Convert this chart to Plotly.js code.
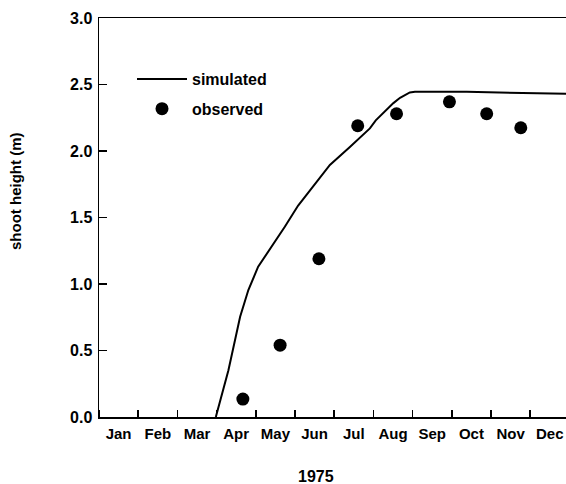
<!DOCTYPE html>
<html>
<head>
<meta charset="utf-8">
<script src="https://cdn.plot.ly/plotly-3.0.1.min.js"></script>
<style>
html,body{margin:0;padding:0;background:#fff;}
#chart{width:566px;height:484px;}
</style>
</head>
<body>
<div id="chart"></div>
<script>
// Month positions: 0 = start of January, 12 = end of December
var monthLabels = ["Jan","Feb","Mar","Apr","May","Jun","Jul","Aug","Sep","Oct","Nov","Dec"];
var monthCenters = [0.5,1.5,2.5,3.5,4.5,5.5,6.5,7.5,8.5,9.5,10.5,11.5];

// simulated shoot height (m)
var simMonth  = [2.98, 3.30, 3.60, 3.81, 4.06, 4.41, 4.74, 5.08, 5.51, 5.89, 6.40, 6.91, 7.06, 7.34, 7.51, 7.68, 7.93, 8.06, 9.38, 11.93];
var simHeight = [0.00, 0.35, 0.754, 0.955, 1.13, 1.28, 1.43, 1.59, 1.75, 1.895, 2.03, 2.17, 2.23, 2.31, 2.36, 2.40, 2.44, 2.445, 2.445, 2.43];

// observed shoot height (m)
var obsMonth  = [3.67, 4.62, 5.61, 6.60, 7.59, 8.94, 9.89, 10.76];
var obsHeight = [0.135, 0.54, 1.19, 2.19, 2.28, 2.37, 2.28, 2.175];

var yTicks = [0, 0.5, 1.0, 1.5, 2.0, 2.5, 3.0];
var yTickText = ["0.0","0.5","1.0","1.5","2.0","2.5","3.0"];

var FONT = "Liberation Sans, Arial, Helvetica, sans-serif";

var traces = [
  {
    x: simMonth, y: simHeight, type: "scatter", mode: "lines",
    name: "simulated", legendgroup: "a",
    line: {color: "#000", width: 2}
  },
  {
    x: obsMonth, y: obsHeight, type: "scatter", mode: "markers",
    name: "observed", legendgroup: "b",
    marker: {color: "#000", size: 13}
  }
];

var layout = {
  width: 566, height: 484,
  margin: {l: 99, r: 0, t: 18, b: 67},
  paper_bgcolor: "#fff", plot_bgcolor: "#fff",
  font: {family: FONT, color: "#000", size: 15, weight: "bold"},
  showlegend: true,
  legend: {
    x: (132 - 99) / 467, y: 1 - (62 - 18) / 399,
    xanchor: "left", yanchor: "top",
    bgcolor: "rgba(0,0,0,0)", borderwidth: 0,
    font: {family: FONT, size: 16, color: "#000", weight: "bold"},
    traceorder: "grouped", tracegroupgap: 6,
    itemwidth: 50
  },
  xaxis: {
    range: [0, 467 / 39.2],
    showgrid: false, zeroline: false,
    showline: true, linecolor: "#000", linewidth: 1.5, mirror: true,
    tickmode: "array", tickvals: monthCenters, ticktext: monthLabels,
    ticks: "", tickfont: {family: FONT, size: 15, color: "#000", weight: "bold"},
    ticklabelstandoff: 2,
    minor: {tick0: 0, dtick: 1, ticks: "inside", ticklen: 7, tickcolor: "#000", tickwidth: 1.5, showgrid: false},
    fixedrange: true
  },
  yaxis: {
    range: [0, 3],
    showgrid: false, zeroline: false,
    showline: true, linecolor: "#000", linewidth: 1.5, mirror: false,
    tickmode: "array", tickvals: yTicks, ticktext: yTickText,
    ticks: "inside", ticklen: 8, tickwidth: 1.5, tickcolor: "#000",
    tickfont: {family: FONT, size: 16, color: "#000", weight: "bold"},
    ticklabelstandoff: 2,
    fixedrange: true
  },
  annotations: [
    {text: "1975", xref: "paper", yref: "paper", x: (316 - 99) / 467, y: -(476 - 417) / 399,
     xanchor: "center", yanchor: "middle", showarrow: false,
     font: {family: FONT, size: 16, color: "#000", weight: "bold"}},
    {text: "shoot height (m)", xref: "paper", yref: "paper", x: (15 - 99) / 467, y: 1 - (192 - 18) / 399,
     xanchor: "center", yanchor: "middle", textangle: -90, showarrow: false,
     font: {family: FONT, size: 15, color: "#000", weight: "bold"}}
  ]
};

Plotly.newPlot("chart", traces, layout, {displayModeBar: false, staticPlot: true});
</script>
</body>
</html>
